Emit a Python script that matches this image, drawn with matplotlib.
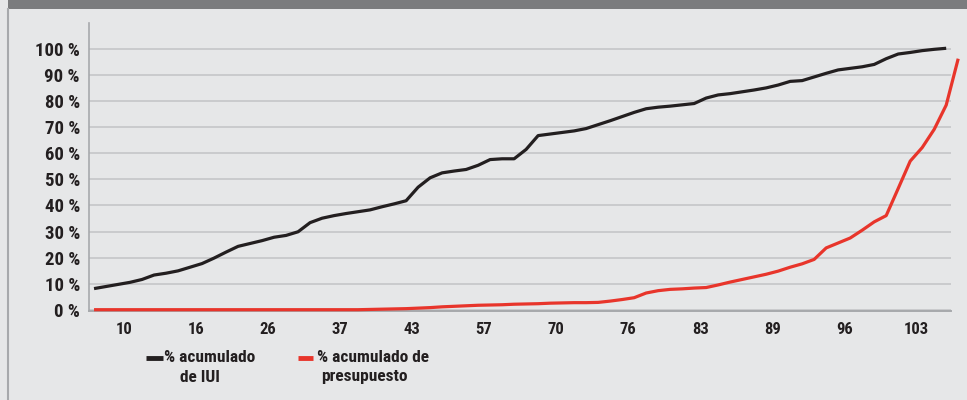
import numpy as np
import matplotlib.pyplot as plt
from matplotlib.lines import Line2D
from matplotlib.patches import Rectangle

# cumulative % of IUI (black) and of budget (red), one value per category step
iui = [8.1, 8.9, 9.7, 10.5, 11.6, 13.3, 14.0, 14.9, 16.3, 17.7,
       19.8, 22.1, 24.3, 25.4, 26.5, 27.8, 28.5, 29.9, 33.4, 35.1,
       36.1, 36.9, 37.6, 38.3, 39.5, 40.6, 41.8, 47.0, 50.6, 52.5,
       53.2, 53.8, 55.4, 57.6, 57.9, 57.9, 61.5, 66.8, 67.4, 68.0,
       68.6, 69.5, 71.0, 72.5, 74.1, 75.7, 77.1, 77.7, 78.1, 78.6,
       79.1, 81.2, 82.4, 82.9, 83.6, 84.3, 85.1, 86.2, 87.6, 87.9,
       89.3, 90.7, 92.0, 92.6, 93.2, 94.1, 96.3, 98.1, 98.7, 99.4,
       99.9, 100.3]
presupuesto = [0.0] * 23 + [
       0.1, 0.2, 0.3, 0.4, 0.6, 0.8, 1.1, 1.3, 1.5, 1.7,
       1.8, 1.9, 2.1, 2.2, 2.3, 2.5, 2.6, 2.7, 2.7, 2.8,
       3.3, 3.9, 4.6, 6.4, 7.3, 7.8, 8.0, 8.3, 8.5, 9.5,
       10.6, 11.6, 12.6, 13.6, 14.8, 16.3, 17.6, 19.3, 23.7, 25.6,
       27.5, 30.5, 33.7, 36.1, 46.5, 57.0, 62.2, 69.2, 78.5, 96.3]
x_labels = ['10', '16', '26', '37', '43', '57', '70', '76', '83', '89', '96', '103']
y_ticks = list(range(0, 101, 10))

bg = '#e6e7e8'
txt = '#231f20'
fam = ['Roboto Condensed', 'DejaVu Sans']

fig = plt.figure(figsize=(9.67, 4.0), dpi=100, facecolor=bg)
fig.patches.append(Rectangle((8 / 967, 391 / 400), 1, 9 / 400, transform=fig.transFigure,
                             facecolor='#7b7c7e', edgecolor='none', zorder=0))
fig.add_artist(Line2D([7.5 / 967, 7.5 / 967], [0, 391 / 400], transform=fig.transFigure,
                      color='#a7a9ac', lw=1.5))

ax = fig.add_axes([89 / 967, 89 / 400, 862 / 967, 288 / 400])
ax.set_facecolor(bg)

ax.plot(np.arange(len(iui)), iui, color='#231f20', lw=2.3, solid_capstyle='butt',
        solid_joinstyle='round', zorder=3)
ax.plot(np.arange(len(presupuesto)), presupuesto, color='#e8352b', lw=2.3,
        solid_capstyle='butt', zorder=3, clip_on=False)

ax.set_xlim(-0.42, 71.4)
ax.set_ylim(-0.5, 110)
ax.set_yticks(y_ticks)
ax.set_yticklabels([f'{v} %' for v in y_ticks])
ax.set_xticks(np.arange(2.5, 72, 6))
ax.set_xticklabels(x_labels)
ax.tick_params(axis='both', length=0, colors=txt)
ax.tick_params(axis='y', pad=6.5)
ax.tick_params(axis='x', pad=8)
for lab in ax.get_yticklabels():
    lab.set_family(fam)
    lab.set_fontweight('bold')
    lab.set_fontsize(13.5)
for lab in ax.get_xticklabels():
    lab.set_family(fam)
    lab.set_fontweight('bold')
    lab.set_fontsize(12)

ax.grid(axis='y', color='#c2c3c5', lw=1.1)
ax.set_axisbelow(True)
for s in ['top', 'right']:
    ax.spines[s].set_visible(False)
ax.spines['left'].set_color('#a7a9ac')
ax.spines['bottom'].set_color('#a7a9ac')
ax.spines['left'].set_linewidth(1.2)
ax.spines['bottom'].set_linewidth(1.4)

# legend drawn by hand: handle sits beside the first line of the label
def px(x, y):
    return x / 967, (400 - y) / 400

for (x0, x1), col, lines in [((146, 163), '#231f20', [('% acumulado', 164), ('de IUI', 180)]),
                             ((298, 313), '#e8352b', [('% acumulado de', 317), ('presupuesto', 321)])]:
    fig.add_artist(Line2D([px(x0, 0)[0], px(x1, 0)[0]], [px(0, 357.5)[1]] * 2,
                          transform=fig.transFigure, color=col, lw=3.5, solid_capstyle='butt'))
    for i, (t, tx) in enumerate(lines):
        fx, fy = px(tx, 358 + 19 * i)
        fig.text(fx, fy, t, ha='left', va='center', fontsize=12.5, fontweight='bold',
                 family=fam, color=txt)

fig.savefig('out.png', dpi=100, facecolor=bg)
